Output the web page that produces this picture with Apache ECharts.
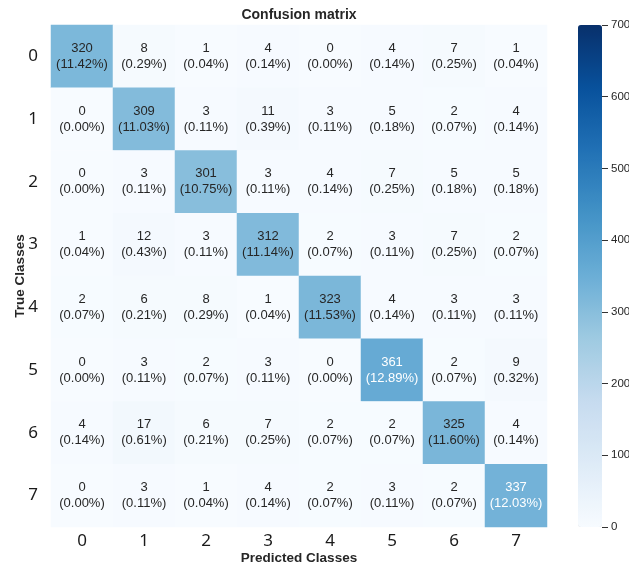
<!DOCTYPE html>
<html>
<head>
<meta charset="utf-8">
<script src="https://cdn.jsdelivr.net/npm/echarts@6/dist/echarts.min.js"></script>
<style>
  html, body { margin: 0; padding: 0; background: #ffffff; }
  #chart { width: 629px; height: 567px; }
</style>
</head>
<body>
<div id="chart"></div>
<script>
// Class labels for both axes
const classes = ['0', '1', '2', '3', '4', '5', '6', '7'];

// Confusion counts: one row per true class, columns are predicted classes
const row0 = [320, 8, 1, 4, 0, 4, 7, 1];
const row1 = [0, 309, 3, 11, 3, 5, 2, 4];
const row2 = [0, 3, 301, 3, 4, 7, 5, 5];
const row3 = [1, 12, 3, 312, 2, 3, 7, 2];
const row4 = [2, 6, 8, 1, 323, 4, 3, 3];
const row5 = [0, 3, 2, 3, 0, 361, 2, 9];
const row6 = [4, 17, 6, 7, 2, 2, 325, 4];
const row7 = [0, 3, 1, 4, 2, 3, 2, 337];
const matrix = [row0, row1, row2, row3, row4, row5, row6, row7];

// Colour bar ticks
const colorbarMin = 0;
const colorbarMax = 700;
const colorbarStep = 100;

// Sequential blue ramp
const blues = ['#f7fbff', '#deebf7', '#c6dbef', '#9ecae1', '#6baed6',
               '#4292c6', '#2171b5', '#08519c', '#08306b'];

const total = matrix.reduce((s, r) => s + r.reduce((a, b) => a + b, 0), 0);

const cells = [];
matrix.forEach((row, r) => {
  row.forEach((v, c) => {
    cells.push({
      value: [c, r, v],
      label: { color: v > 330 ? '#ffffff' : '#262626' }
    });
  });
});

const plotLeft = 51, plotTop = 25, plotW = 496, plotH = 502;
const barLeft = 578, barW = 24;

const chart = echarts.init(document.getElementById('chart'), null, { renderer: 'canvas' });
chart.setOption({
  animation: false,
  backgroundColor: '#ffffff',
  title: {
    text: 'Confusion matrix',
    left: plotLeft + plotW / 2,
    textAlign: 'center',
    top: 8,
    padding: 0,
    textStyle: { fontFamily: 'Liberation Sans', fontWeight: 'bold', fontSize: 14, color: '#262626' }
  },
  grid: [
    { left: plotLeft, top: plotTop, width: plotW, height: plotH, outerBoundsMode: 'none', containLabel: false },
    { left: barLeft, top: plotTop, width: barW, height: plotH, outerBoundsMode: 'none', containLabel: false }
  ],
  xAxis: [
    {
      type: 'category', data: classes, gridIndex: 0,
      axisLine: { show: false }, axisTick: { show: false }, splitLine: { show: false },
      axisLabel: { fontFamily: 'Noto Sans', fontSize: 17, color: '#1a1a1a', margin: 6 },
      name: 'Predicted Classes', nameLocation: 'middle', nameGap: 24, nameMoveOverlap: false,
      nameTextStyle: { fontFamily: 'Liberation Sans', fontWeight: 'bold', fontSize: 13.5, color: '#262626' }
    },
    {
      type: 'value', gridIndex: 1, min: 0, max: 1,
      axisLine: { show: false }, axisTick: { show: false },
      axisLabel: { show: false }, splitLine: { show: false }
    }
  ],
  yAxis: [
    {
      type: 'category', data: classes, inverse: true, gridIndex: 0,
      axisLine: { show: false }, axisTick: { show: false }, splitLine: { show: false },
      axisLabel: { fontFamily: 'Noto Sans', fontSize: 17, color: '#1a1a1a', margin: 13 },
      name: 'True Classes', nameLocation: 'middle', nameGap: 24, nameMoveOverlap: false,
      nameTextStyle: { fontFamily: 'Liberation Sans', fontWeight: 'bold', fontSize: 13.5, color: '#262626' }
    },
    {
      type: 'value', gridIndex: 1, position: 'right',
      min: colorbarMin, max: colorbarMax, interval: colorbarStep,
      axisLine: { show: false, onZero: false },
      axisTick: { show: true, inside: false, length: 6, lineStyle: { color: '#333333', width: 1 } },
      splitLine: { show: false },
      axisLabel: { fontFamily: 'Liberation Sans', fontSize: 11.5, color: '#262626', margin: 9 }
    }
  ],
  visualMap: {
    type: 'continuous',
    seriesIndex: 0,
    min: colorbarMin, max: colorbarMax,
    calculable: false,
    orient: 'vertical',
    left: barLeft, top: plotTop,
    itemWidth: barW, itemHeight: plotH,
    padding: 0,
    z: 1,
    inRange: { color: blues }
  },
  series: [
    {
      type: 'heatmap',
      xAxisIndex: 0, yAxisIndex: 0,
      data: cells,
      itemStyle: { borderWidth: 0 },
      label: {
        show: true,
        fontFamily: 'Liberation Sans',
        fontSize: 13,
        lineHeight: 16,
        formatter: p => p.value[2] + '\n(' + (p.value[2] / total * 100).toFixed(2) + '%)'
      },
      emphasis: { disabled: true }
    },
    {
      type: 'scatter', xAxisIndex: 1, yAxisIndex: 1, data: [], silent: true
    }
  ]
});
</script>
</body>
</html>
